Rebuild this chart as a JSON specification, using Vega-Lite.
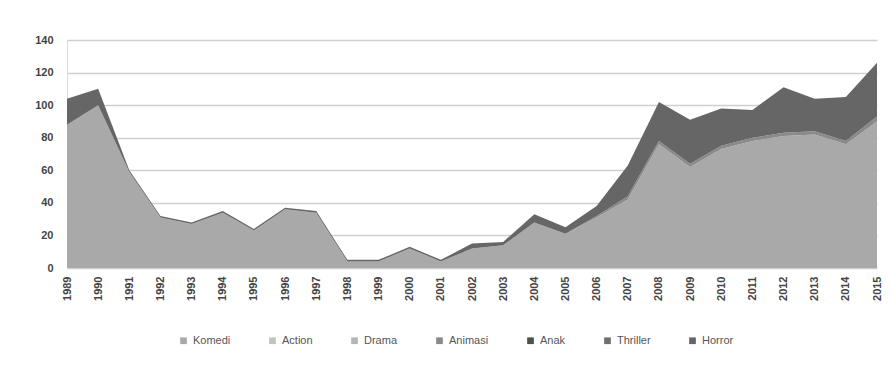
{
  "$schema": "https://vega.github.io/schema/vega-lite/v6.json",
  "width": 810,
  "height": 228,
  "autosize": "none",
  "padding": {"left": 67, "top": 40, "right": 16, "bottom": 98},
  "background": "#ffffff",
  "config": {
    "view": {"stroke": null},
    "font": "Liberation Sans",
    "axis": {"labelFont": "Liberation Sans", "labelColor": "#444444", "labelFontSize": 11, "labelFontWeight": "bold"}
  },
  "data": {
    "values": [
      {"year": "1989", "genre": "Komedi", "n": 88}, {"year": "1989", "genre": "Animasi", "n": 0}, {"year": "1989", "genre": "Horror", "n": 16},
      {"year": "1990", "genre": "Komedi", "n": 100}, {"year": "1990", "genre": "Animasi", "n": 0}, {"year": "1990", "genre": "Horror", "n": 10},
      {"year": "1991", "genre": "Komedi", "n": 59}, {"year": "1991", "genre": "Animasi", "n": 0}, {"year": "1991", "genre": "Horror", "n": 1},
      {"year": "1992", "genre": "Komedi", "n": 31}, {"year": "1992", "genre": "Animasi", "n": 0}, {"year": "1992", "genre": "Horror", "n": 1},
      {"year": "1993", "genre": "Komedi", "n": 27}, {"year": "1993", "genre": "Animasi", "n": 0}, {"year": "1993", "genre": "Horror", "n": 1},
      {"year": "1994", "genre": "Komedi", "n": 34}, {"year": "1994", "genre": "Animasi", "n": 0}, {"year": "1994", "genre": "Horror", "n": 1},
      {"year": "1995", "genre": "Komedi", "n": 23}, {"year": "1995", "genre": "Animasi", "n": 0}, {"year": "1995", "genre": "Horror", "n": 1},
      {"year": "1996", "genre": "Komedi", "n": 36}, {"year": "1996", "genre": "Animasi", "n": 0}, {"year": "1996", "genre": "Horror", "n": 1},
      {"year": "1997", "genre": "Komedi", "n": 34}, {"year": "1997", "genre": "Animasi", "n": 0}, {"year": "1997", "genre": "Horror", "n": 1},
      {"year": "1998", "genre": "Komedi", "n": 4}, {"year": "1998", "genre": "Animasi", "n": 0}, {"year": "1998", "genre": "Horror", "n": 1},
      {"year": "1999", "genre": "Komedi", "n": 4}, {"year": "1999", "genre": "Animasi", "n": 0}, {"year": "1999", "genre": "Horror", "n": 1},
      {"year": "2000", "genre": "Komedi", "n": 12}, {"year": "2000", "genre": "Animasi", "n": 0}, {"year": "2000", "genre": "Horror", "n": 1},
      {"year": "2001", "genre": "Komedi", "n": 4}, {"year": "2001", "genre": "Animasi", "n": 0}, {"year": "2001", "genre": "Horror", "n": 1},
      {"year": "2002", "genre": "Komedi", "n": 12}, {"year": "2002", "genre": "Animasi", "n": 0}, {"year": "2002", "genre": "Horror", "n": 3},
      {"year": "2003", "genre": "Komedi", "n": 14}, {"year": "2003", "genre": "Animasi", "n": 0}, {"year": "2003", "genre": "Horror", "n": 2},
      {"year": "2004", "genre": "Komedi", "n": 28}, {"year": "2004", "genre": "Animasi", "n": 0}, {"year": "2004", "genre": "Horror", "n": 5},
      {"year": "2005", "genre": "Komedi", "n": 21}, {"year": "2005", "genre": "Animasi", "n": 0}, {"year": "2005", "genre": "Horror", "n": 4},
      {"year": "2006", "genre": "Komedi", "n": 31}, {"year": "2006", "genre": "Animasi", "n": 1}, {"year": "2006", "genre": "Horror", "n": 6},
      {"year": "2007", "genre": "Komedi", "n": 42}, {"year": "2007", "genre": "Animasi", "n": 2}, {"year": "2007", "genre": "Horror", "n": 19},
      {"year": "2008", "genre": "Komedi", "n": 76}, {"year": "2008", "genre": "Animasi", "n": 2}, {"year": "2008", "genre": "Horror", "n": 24},
      {"year": "2009", "genre": "Komedi", "n": 62}, {"year": "2009", "genre": "Animasi", "n": 2}, {"year": "2009", "genre": "Horror", "n": 27},
      {"year": "2010", "genre": "Komedi", "n": 73}, {"year": "2010", "genre": "Animasi", "n": 2}, {"year": "2010", "genre": "Horror", "n": 23},
      {"year": "2011", "genre": "Komedi", "n": 78}, {"year": "2011", "genre": "Animasi", "n": 2}, {"year": "2011", "genre": "Horror", "n": 17},
      {"year": "2012", "genre": "Komedi", "n": 81}, {"year": "2012", "genre": "Animasi", "n": 2}, {"year": "2012", "genre": "Horror", "n": 28},
      {"year": "2013", "genre": "Komedi", "n": 82}, {"year": "2013", "genre": "Animasi", "n": 2}, {"year": "2013", "genre": "Horror", "n": 20},
      {"year": "2014", "genre": "Komedi", "n": 76}, {"year": "2014", "genre": "Animasi", "n": 2}, {"year": "2014", "genre": "Horror", "n": 27},
      {"year": "2015", "genre": "Komedi", "n": 90}, {"year": "2015", "genre": "Animasi", "n": 3}, {"year": "2015", "genre": "Horror", "n": 33}
    ]
  },
  "transform": [
    {"calculate": "indexof(['Komedi','Action','Drama','Animasi','Anak','Thriller','Horror'], datum.genre)", "as": "ord"}
  ],
  "mark": {"type": "area", "line": false},
  "encoding": {
    "x": {
      "field": "year", "type": "ordinal", "title": null,
      "scale": {"type": "point", "padding": 0},
      "axis": {"labelAngle": -90, "labelAlign": "right", "labelBaseline": "middle", "ticks": false, "domain": false, "labelPadding": 8, "grid": false}
    },
    "y": {
      "field": "n", "type": "quantitative", "title": null, "stack": "zero",
      "scale": {"domain": [0, 140], "nice": false},
      "axis": {"values": [0, 20, 40, 60, 80, 100, 120, 140], "gridColor": "#cfcfcf", "gridWidth": 1.5, "domain": true, "domainColor": "#d8d8d8", "ticks": false, "labelPadding": 14}
    },
    "color": {
      "field": "genre", "type": "nominal", "title": null,
      "scale": {
        "domain": ["Komedi", "Action", "Drama", "Animasi", "Anak", "Thriller", "Horror"],
        "range": ["#a9a9a9", "#c2c2c2", "#b5b5b5", "#8a8a8a", "#4f4f4f", "#707070", "#666666"]
      },
      "legend": {
        "orient": "none", "legendX": 111, "legendY": 295, "direction": "horizontal",
        "symbolType": "square", "symbolSize": 45, "symbolStrokeWidth": 0,
        "labelFont": "Liberation Sans", "labelFontSize": 11, "labelColor": "#555555",
        "columnPadding": 36
      }
    },
    "order": {"field": "ord", "type": "quantitative"}
  }
}
